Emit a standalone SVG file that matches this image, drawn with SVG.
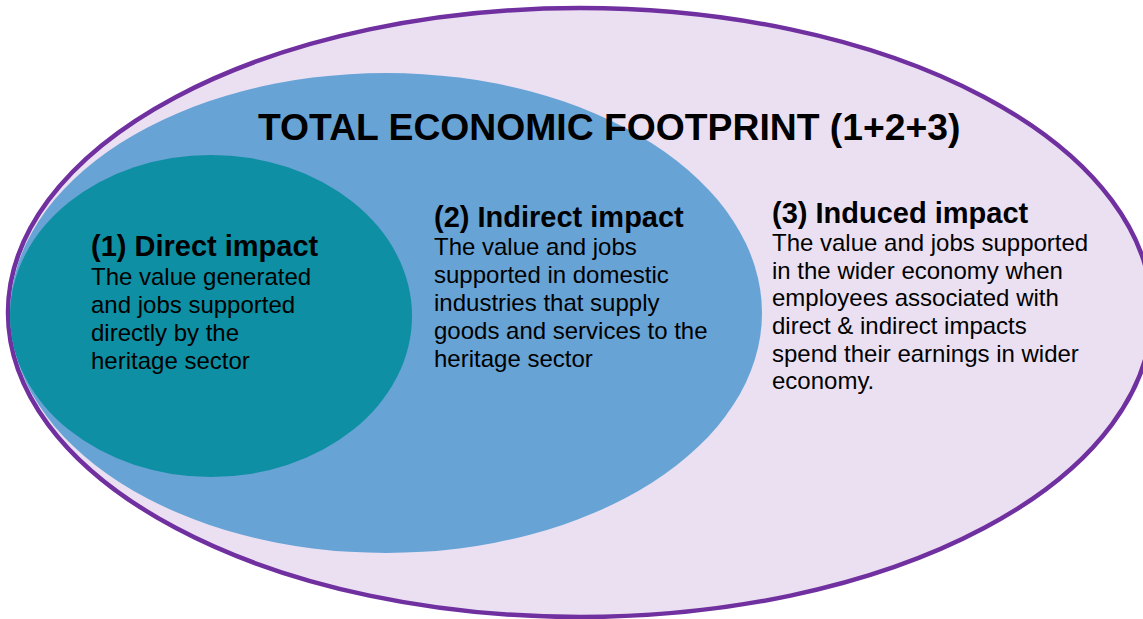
<svg xmlns="http://www.w3.org/2000/svg" width="1143" height="619" viewBox="0 0 1143 619">
<style>
.h{font-family:"Liberation Sans",Arial,sans-serif;font-weight:bold;font-size:29px;fill:#000}
.b{font-family:"Liberation Sans",Arial,sans-serif;font-size:24px;fill:#000}
.t{font-family:"Liberation Sans",Arial,sans-serif;font-weight:bold;font-size:37.3px;fill:#000}
</style>
<rect width="1143" height="619" fill="#ffffff"/>
<g id="induced">
<ellipse cx="580" cy="312.5" rx="572" ry="304.5" fill="#ebe0f2" stroke="#7030a0" stroke-width="4.5"/>
</g>
<g id="indirect">
<ellipse cx="386" cy="313" rx="376" ry="240" fill="#68a3d6"/>
</g>
<g id="direct">
<ellipse cx="211" cy="316" rx="201" ry="161" fill="#0e8fa3"/>
</g>
<g id="connectors"></g>
<g id="title">
<text class="t" x="258" y="140">TOTAL ECONOMIC FOOTPRINT (1+2+3)</text>
</g>
<g id="direct-text">
<text class="h" x="91" y="256">(1) Direct impact</text>
<text class="b" x="91" y="285">The value generated</text>
<text class="b" x="91" y="313">and jobs supported</text>
<text class="b" x="91" y="341">directly by the</text>
<text class="b" x="91" y="369">heritage sector</text>
</g>
<g id="indirect-text">
<text class="h" x="434" y="227">(2) Indirect impact</text>
<text class="b" x="434" y="255">The value and jobs</text>
<text class="b" x="434" y="283">supported in domestic</text>
<text class="b" x="434" y="311">industries that supply</text>
<text class="b" x="434" y="339">goods and services to the</text>
<text class="b" x="434" y="367">heritage sector</text>
</g>
<g id="induced-text">
<text class="h" x="772" y="223">(3) Induced impact</text>
<text class="b" x="772" y="251">The value and jobs supported</text>
<text class="b" x="772" y="279">in the wider economy when</text>
<text class="b" x="772" y="306">employees associated with</text>
<text class="b" x="772" y="334">direct &amp; indirect impacts</text>
<text class="b" x="772" y="362">spend their earnings in wider</text>
<text class="b" x="772" y="389">economy.</text>
</g>
</svg>
